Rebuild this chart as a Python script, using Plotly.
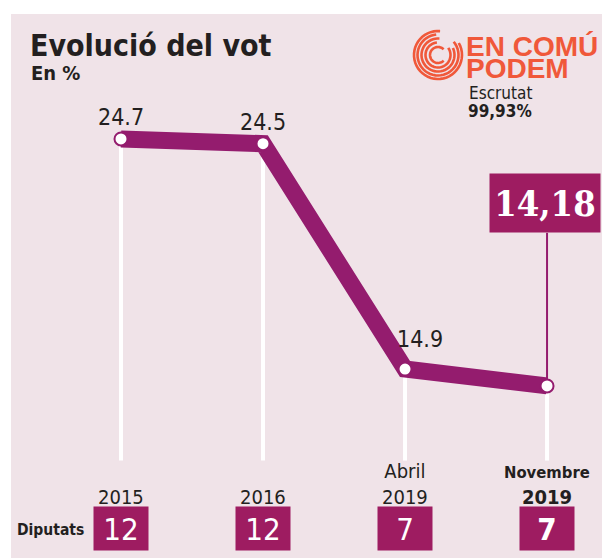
import math
import plotly.graph_objects as go

# ---------------- data ----------------
categories = ["2015", "2016", "Abril<br>2019",
              "<b><span style='font-size:16.5px'>Novembre</span><br>2019</b>"]
votes = [24.7, 24.5, 14.9, 14.18]
vote_labels = ["24.7", "24.5", "14.9", "14,18"]
seats = [12, 12, 7, 7]

W, H = 602, 558
BG = "#F0E3E8"
LINE = "#941C6E"
BOX = "#9E1C61"
ORANGE = "#F0583A"
TXT = "#231F20"
FONT = "Liberation Sans Narrow, DejaVu Sans Condensed, sans-serif"

def px(x):
    return x / W

def py(y):
    return 1 - y / H

xs = list(range(len(votes)))
fig = go.Figure()

# drop lines
base = 11.0
for i, v in enumerate(votes):
    fig.add_trace(go.Scatter(x=[i, i], y=[v, base], mode="lines",
                             line=dict(color="white", width=4),
                             hoverinfo="skip", showlegend=False))
# highlight connector to last label
fig.add_trace(go.Scatter(x=[xs[-1], xs[-1]], y=[votes[-1], 20.7], mode="lines",
                         line=dict(color=LINE, width=2),
                         hoverinfo="skip", showlegend=False))
# main line
fig.add_trace(go.Scatter(x=xs, y=votes, mode="lines+markers",
                         line=dict(color=LINE, width=17),
                         marker=dict(size=13, color="white",
                                     line=dict(color=LINE, width=2)),
                         hoverinfo="skip", showlegend=False))

ann = []
# value labels
shifts = [(0, 22), (0, 22), (15, 30)]
for i in range(3):
    ann.append(dict(x=xs[i], y=votes[i], xref="x", yref="y", text=vote_labels[i],
                    showarrow=False, xshift=shifts[i][0], yshift=shifts[i][1],
                    xanchor="center", yanchor="middle",
                    font=dict(family=FONT, size=23, color=TXT)))
# highlighted last value
ann.append(dict(x=xs[-1], y=20.7, xref="x", yref="y", text="<b>" + vote_labels[-1] + "</b>",
                showarrow=False, xanchor="center", yanchor="bottom", xshift=-2,
                width=108, height=56, bgcolor=BOX,
                font=dict(family="DejaVu Serif Condensed, DejaVu Serif, serif", size=36, color="white")))
# category labels
for i, c in enumerate(categories):
    ann.append(dict(x=xs[i], y=py(511), xref="x", yref="paper", text=c,
                    showarrow=False, xanchor="center", yanchor="bottom",
                    font=dict(family=FONT, size=20, color=TXT)))
# seat boxes
for i, s in enumerate(seats):
    txt = f"<b>{s}</b>" if i == len(seats) - 1 else str(s)
    ann.append(dict(x=xs[i], y=py(528.5), xref="x", yref="paper", text=txt,
                    showarrow=False, xanchor="center", yanchor="middle",
                    width=52, height=41, bgcolor=BOX,
                    font=dict(family=FONT, size=31, color="white")))
ann.append(dict(x=px(15), y=py(530), xref="paper", yref="paper", text="<b>Diputats</b>",
                showarrow=False, xanchor="left", yanchor="middle",
                font=dict(family=FONT, size=15.5, color=TXT)))
# title
ann.append(dict(x=px(28), y=py(45), xref="paper", yref="paper", text="<b>Evolució del vot</b>",
                showarrow=False, xanchor="left", yanchor="middle",
                font=dict(family=FONT, size=30, color=TXT)))
ann.append(dict(x=px(29), y=py(73), xref="paper", yref="paper", text="<b>En %</b>",
                showarrow=False, xanchor="left", yanchor="middle",
                font=dict(family=FONT, size=20, color=TXT)))
# logo text (tight two-line block)
ann.append(dict(x=px(464), y=py(57), xref="paper", yref="paper",
                text="<b><span style='font-size:28px'>EN COMÚ</span><br>"
                     "<span style='font-size:28px'>PODEM</span></b>",
                showarrow=False, xanchor="left", yanchor="middle", align="left",
                font=dict(family="Liberation Sans, Arial, sans-serif", size=17, color=ORANGE)))
ann.append(dict(x=px(500), y=py(93), xref="paper", yref="paper", text="Escrutat",
                showarrow=False, xanchor="center", yanchor="middle",
                font=dict(family=FONT, size=17, color=TXT)))
ann.append(dict(x=px(500), y=py(111), xref="paper", yref="paper", text="<b>99,93%</b>",
                showarrow=False, xanchor="center", yanchor="middle",
                font=dict(family=FONT, size=17, color=TXT)))

shapes = [dict(type="rect", xref="paper", yref="paper", x0=px(11), x1=1, y0=0, y1=py(14),
               fillcolor=BG, line=dict(width=0), layer="below")]

# logo arcs (decoration)
cx, cy = 438, 55
rings = [(8, 45, 315), (12.5, 95, 395), (16.5, 85, 385), (20.5, 95, 400), (24, 85, 390)]
for r, a0, a1 in rings:
    pts = []
    n = 40
    for k in range(n + 1):
        a = math.radians(a0 + (a1 - a0) * k / n)
        pts.append((px(cx + r * math.cos(a)), py(cy - r * math.sin(a))))
    path = "M " + " L ".join(f"{x:.5f},{y:.5f}" for x, y in pts)
    shapes.append(dict(type="path", xref="paper", yref="paper", path=path,
                       line=dict(color=ORANGE, width=2.6)))

fig.update_layout(
    width=W, height=H, margin=dict(l=0, r=0, t=0, b=0),
    paper_bgcolor="white", plot_bgcolor="rgba(0,0,0,0)",
    xaxis=dict(range=[-0.852, 3.387], visible=False, fixedrange=True),
    yaxis=dict(range=[6.85, 30.62], visible=False, fixedrange=True),
    annotations=ann, shapes=shapes, showlegend=False,
)
fig.write_html("out.html", config={"displayModeBar": False},
               post_script="document.body.style.margin='0px';document.body.style.overflow='hidden';")
